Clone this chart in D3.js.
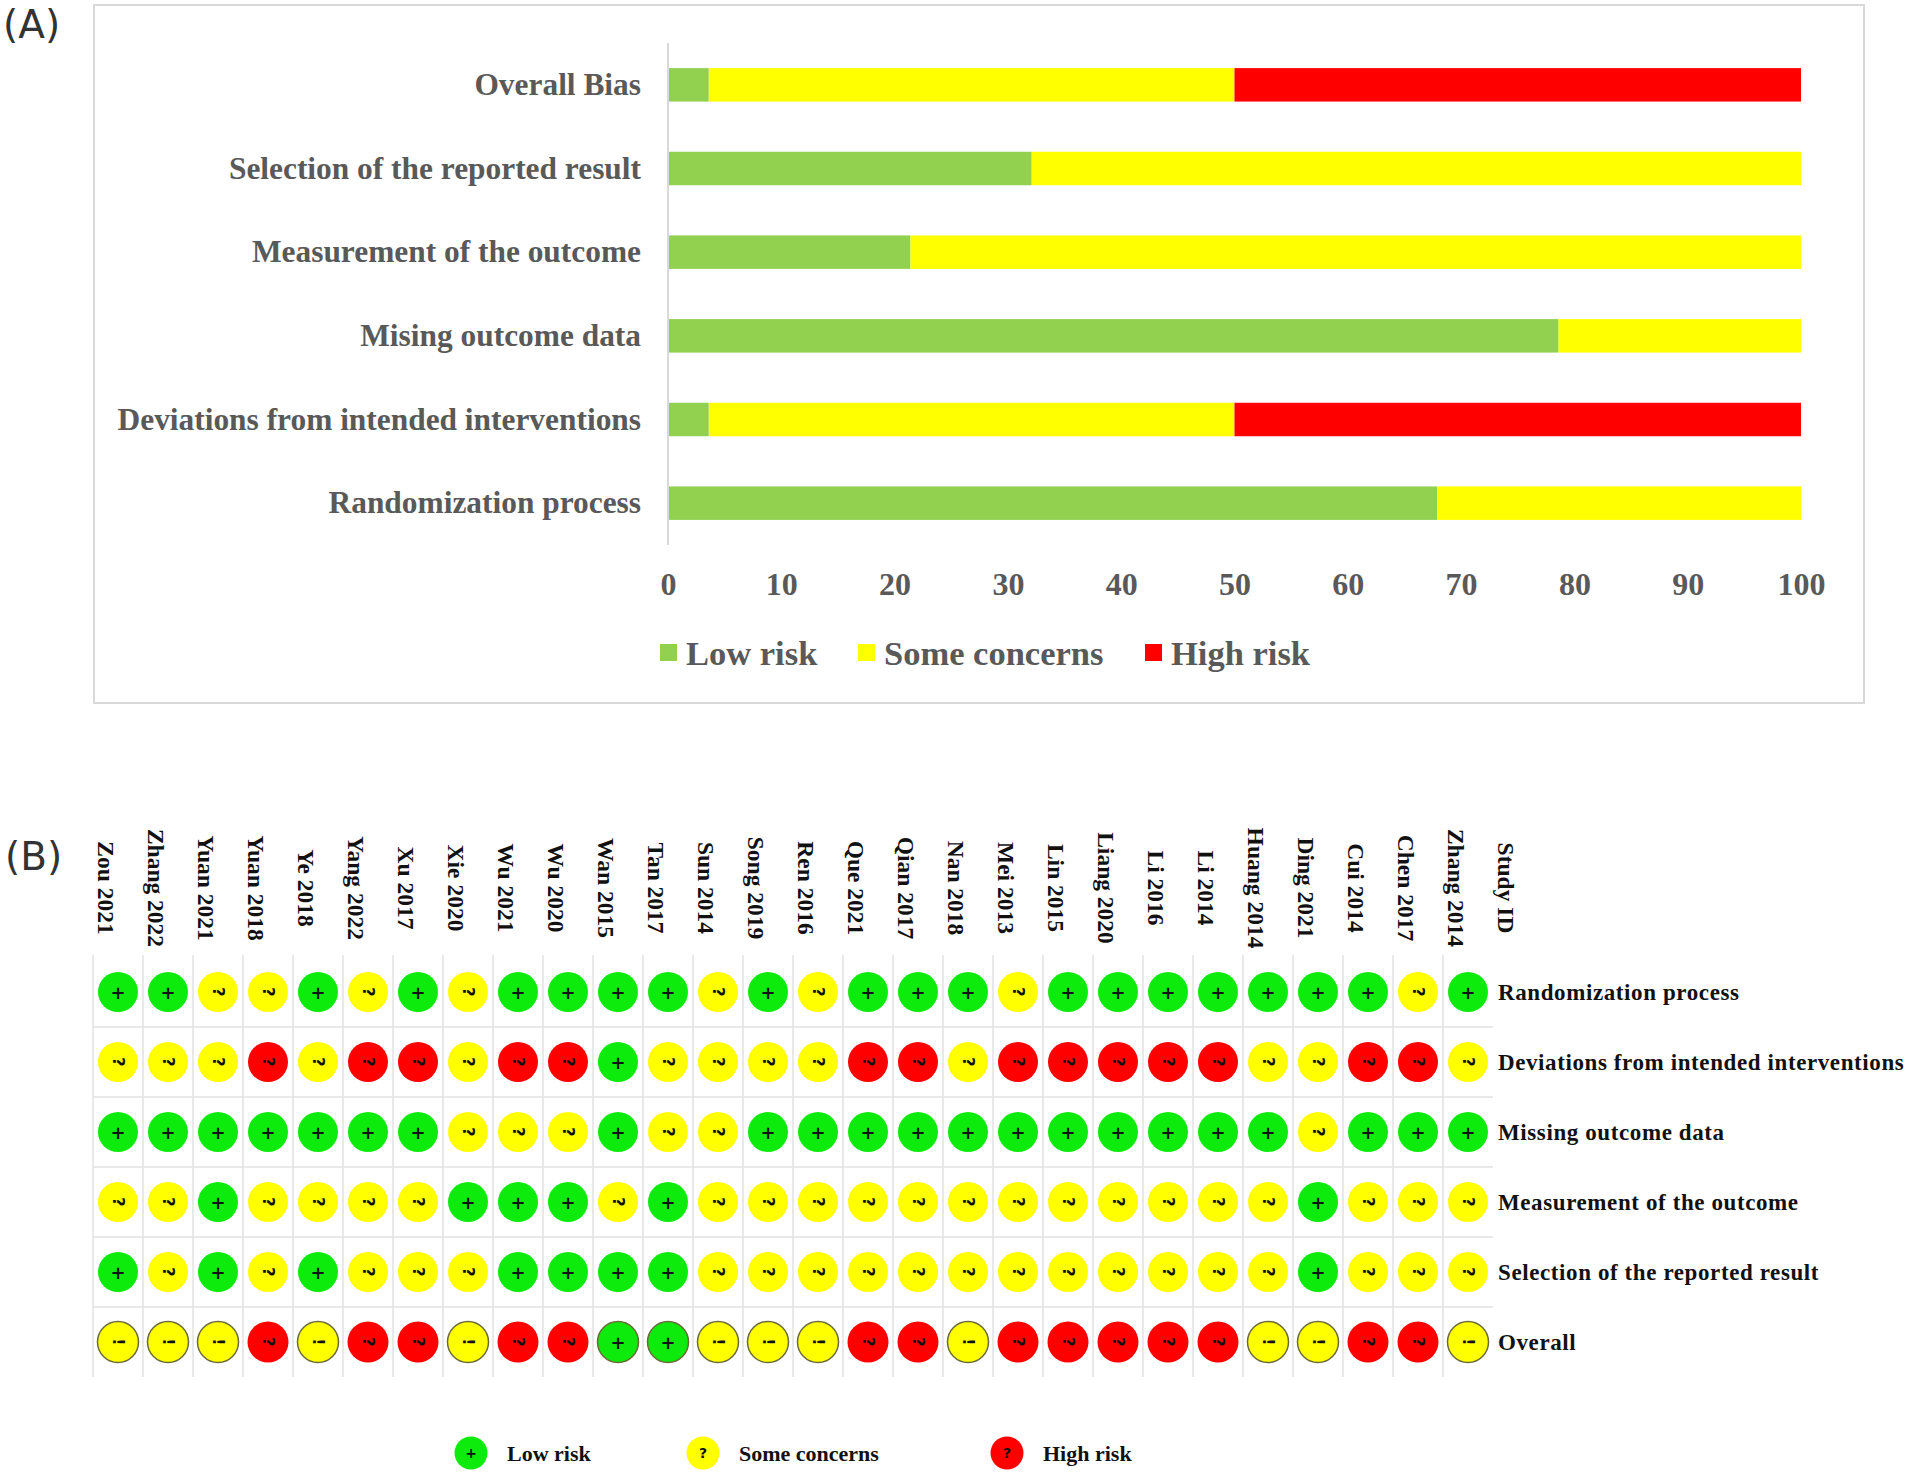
<!DOCTYPE html>
<html>
<head>
<meta charset="utf-8">
<script src="https://cdn.jsdelivr.net/npm/d3@7"></script>
<style>
  html, body { margin: 0; padding: 0; background: #fff; }
  svg { display: block; }
</style>
</head>
<body>
<svg id="chart" width="1907" height="1478"></svg>
<script>
// ---------- Panel A data ----------
const categoriesA = ["Overall Bias", "Selection of the reported result", "Measurement of the outcome",
  "Mising outcome data", "Deviations from intended interventions", "Randomization process"];
const lowRisk = [3.6, 32.1, 21.4, 78.6, 3.6, 67.9];
const someConcerns = [46.4, 67.9, 78.6, 21.4, 46.4, 32.1];
const highRisk = [50, 0, 0, 0, 50, 0];
const seriesNames = ["Low risk", "Some concerns", "High risk"];
const xTicks = [0, 10, 20, 30, 40, 50, 60, 70, 80, 90, 100];

// ---------- Panel B data ----------
const studies = ["Zou 2021", "Zhang 2022", "Yuan 2021", "Yuan 2018", "Ye 2018", "Yang 2022", "Xu 2017",
  "Xie 2020", "Wu 2021", "Wu 2020", "Wan 2015", "Tan 2017", "Sun 2014", "Song 2019", "Ren 2016",
  "Que 2021", "Qian 2017", "Nan 2018", "Mei 2013", "Lin 2015", "Liang 2020", "Li 2016", "Li 2014",
  "Huang 2014", "Ding 2021", "Cui 2014", "Chen 2017", "Zhang 2014"];
const domainsB = ["Randomization process", "Deviations from intended interventions", "Missing outcome data",
  "Measurement of the outcome", "Selection of the reported result", "Overall"];
// "+" low, "?" some concerns, "x" high, "!" overall some concerns
const randomization = ["+","+","?","?","+","?","+","?","+","+","+","+","?","+","?","+","+","+","?","+","+","+","+","+","+","+","?","+"];
const deviations    = ["?","?","?","x","?","x","x","?","x","x","+","?","?","?","?","x","x","?","x","x","x","x","x","?","?","x","x","?"];
const missingData   = ["+","+","+","+","+","+","+","?","?","?","+","?","?","+","+","+","+","+","+","+","+","+","+","+","?","+","+","+"];
const measurement   = ["?","?","+","?","?","?","?","+","+","+","?","+","?","?","?","?","?","?","?","?","?","?","?","?","+","?","?","?"];
const selection     = ["+","?","+","?","+","?","?","?","+","+","+","+","?","?","?","?","?","?","?","?","?","?","?","?","+","?","?","?"];
const overall       = ["!","!","!","x","!","x","x","!","x","x","+","+","!","!","!","x","x","!","x","x","x","x","x","!","!","x","x","!"];
const judgements = [randomization, deviations, missingData, measurement, selection, overall];
const legendB = [["+", "Low risk"], ["?", "Some concerns"], ["x", "High risk"]];

// ---------- drawing ----------
const svg = d3.select("#chart");
const serif = "'Liberation Serif', 'Times New Roman', serif";
const panelFont = "'DejaVu Sans', sans-serif";

// Panel A frame
svg.append("rect").attr("x", 94).attr("y", 5).attr("width", 1770).attr("height", 698)
  .attr("fill", "none").attr("stroke", "#d9d9d9").attr("stroke-width", 2);
svg.append("text").attr("x", 3).attr("y", 38).text("(A)")
  .attr("font-family", panelFont).attr("font-size", 39).attr("fill", "#333");

const x = d3.scaleLinear().domain([0, 100]).range([668, 1801]);
const y = d3.scaleBand().domain(categoriesA).range([43, 545]).paddingInner(0.6).paddingOuter(0.3);
const colA = d3.scaleOrdinal().domain(seriesNames).range(["#92D050", "#FFFF00", "#FF0000"]);

const rows = categoriesA.map((c, i) => ({cat: c, "Low risk": lowRisk[i], "Some concerns": someConcerns[i], "High risk": highRisk[i]}));
const stacked = d3.stack().keys(seriesNames)(rows);
svg.append("g").selectAll("g").data(stacked).join("g")
  .attr("fill", d => colA(d.key))
  .selectAll("rect").data(d => d).join("rect")
  .attr("x", d => x(d[0])).attr("width", d => x(d[1]) - x(d[0]))
  .attr("y", d => y(d.data.cat)).attr("height", y.bandwidth());

// axis line
svg.append("line").attr("x1", x(0)).attr("x2", x(0)).attr("y1", 43).attr("y2", 545)
  .attr("stroke", "#d9d9d9").attr("stroke-width", 2);

const xAxis = svg.append("g").attr("transform", "translate(0,545)")
  .call(d3.axisBottom(x).tickValues(xTicks).tickSize(0).tickPadding(27));
xAxis.select(".domain").remove();
xAxis.selectAll("text").attr("font-family", serif).attr("font-weight", "bold")
  .attr("font-size", 32).attr("fill", "#595959");

const yAxis = svg.append("g").attr("transform", `translate(${x(0)},0)`)
  .call(d3.axisLeft(y).tickSize(0).tickPadding(27));
yAxis.select(".domain").remove();
yAxis.selectAll("text").attr("font-family", serif).attr("font-weight", "bold")
  .attr("font-size", 31.4).attr("fill", "#595959");

// legend A
const legX = [660, 858, 1145];
const legA = svg.append("g");
seriesNames.forEach((s, i) => {
  legA.append("rect").attr("x", legX[i]).attr("y", 644).attr("width", 17).attr("height", 17).attr("fill", colA(s));
  legA.append("text").attr("x", legX[i] + 26).attr("y", 665).text(s)
    .attr("font-family", serif).attr("font-weight", "bold").attr("font-size", 34.5).attr("fill", "#595959");
});

// Panel B
svg.append("text").attr("x", 5).attr("y", 870).text("(B)")
  .attr("font-family", panelFont).attr("font-size", 39).attr("fill", "#333");

const xB = d3.scaleBand().domain(studies.concat(["Study ID"])).range([93, 93 + 50 * 29]);
const yB = d3.scaleBand().domain(domainsB).range([957, 1377]);
const fillB = {"+": "#0DEB0D", "?": "#FFFF00", "!": "#FFFF00", "x": "#FF0000"};

const grid = svg.append("g").attr("stroke", "#e2e2e2").attr("stroke-width", 1.5);
studies.forEach(s => {
  grid.append("line").attr("x1", xB(s)).attr("x2", xB(s)).attr("y1", 955).attr("y2", 1377);
});
domainsB.slice(1).forEach(d => {
  grid.append("line").attr("x1", 93).attr("x2", xB("Study ID")).attr("y1", yB(d)).attr("y2", yB(d));
});

// column headers
svg.append("g").selectAll("text").data(studies.concat(["Study ID"])).join("text")
  .attr("transform", d => `translate(${xB(d) + xB.bandwidth() / 2 - 20},888) rotate(90)`)
  .attr("text-anchor", "middle")
  .attr("font-family", serif).attr("font-weight", "bold").attr("font-size", 23.5).attr("fill", "#111")
  .text(d => d);

// row labels
svg.append("g").selectAll("text").data(domainsB).join("text")
  .attr("x", 1498).attr("y", d => yB(d) + yB.bandwidth() / 2 + 8)
  .attr("font-family", serif).attr("font-weight", "bold").attr("font-size", 23)
  .attr("letter-spacing", 0.6).attr("fill", "#111")
  .text(d => d);

// cells
const cells = [];
judgements.forEach((arr, r) => arr.forEach((v, c) => cells.push({dom: domainsB[r], study: studies[c], v, overall: r === 5})));
const cg = svg.append("g").selectAll("g").data(cells).join("g")
  .attr("transform", d => `translate(${xB(d.study) + xB.bandwidth() / 2},${yB(d.dom) + yB.bandwidth() / 2})`);
cg.append("ellipse").attr("rx", d => d.overall ? 20.5 : 20).attr("ry", d => d.overall ? 20.5 : 20)
  .attr("fill", d => fillB[d.v])
  .attr("stroke", d => d.overall && d.v !== "x" ? "#6b6b3a" : "none").attr("stroke-width", 1.5);
cg.append("text")
  .attr("transform", d => d.v === "+" ? null : "rotate(90)")
  .attr("text-anchor", "middle").attr("dominant-baseline", "central")
  .attr("font-family", "'DejaVu Sans', sans-serif").attr("font-weight", "bold")
  .attr("font-size", d => d.v === "+" ? 18 : 16).attr("fill", "#111")
  .text(d => d.v === "x" ? "?" : d.v);

// legend B
const legBX = [471, 703, 1007];
const lg = svg.append("g");
legendB.forEach(([code, label], i) => {
  lg.append("circle").attr("cx", legBX[i]).attr("cy", 1453).attr("r", 16.5).attr("fill", fillB[code]);
  lg.append("text").attr("x", legBX[i]).attr("y", 1453).attr("text-anchor", "middle")
    .attr("dominant-baseline", "central").attr("font-family", "'DejaVu Sans', sans-serif")
    .attr("font-weight", "bold").attr("font-size", 14).attr("fill", "#111").text(code === "x" ? "?" : code);
  lg.append("text").attr("x", legBX[i] + 36).attr("y", 1461).text(label)
    .attr("font-family", serif).attr("font-weight", "bold").attr("font-size", 22).attr("fill", "#111");
});
</script>
</body>
</html>
